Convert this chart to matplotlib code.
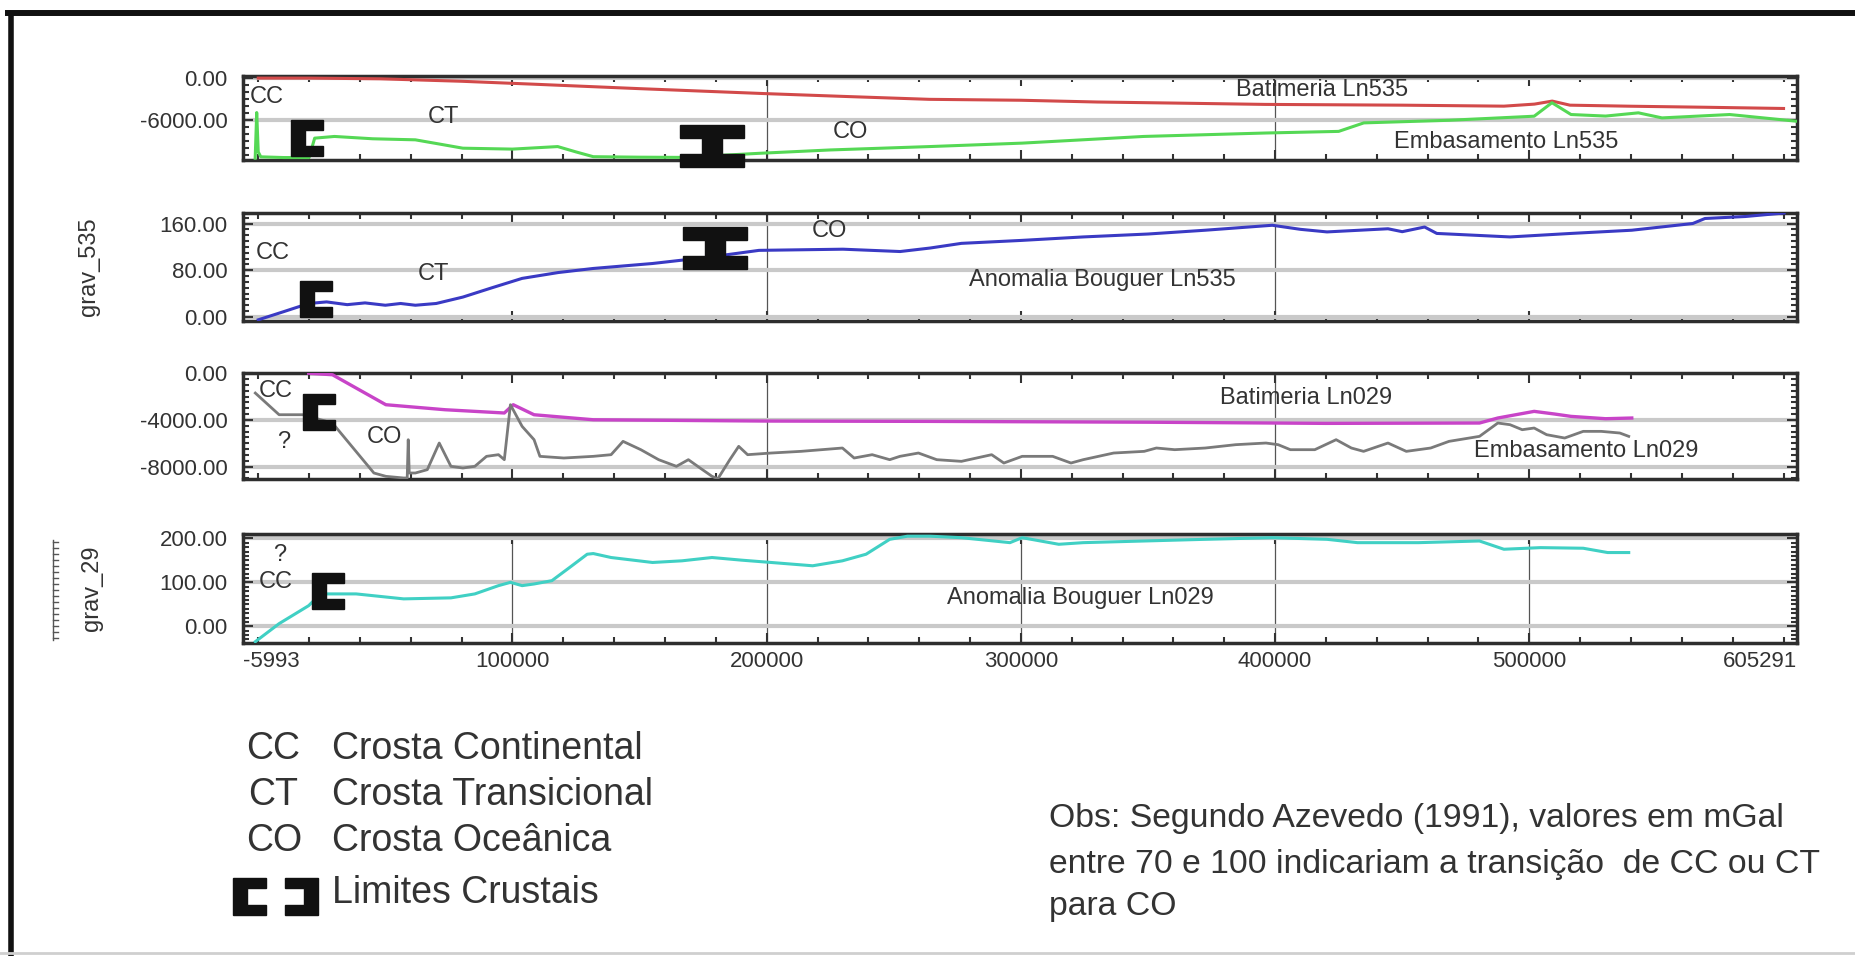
import numpy as np
import matplotlib
matplotlib.use('Agg')
import matplotlib.pyplot as plt
import matplotlib.transforms as mtransforms
from matplotlib.patches import Polygon
from matplotlib.ticker import MultipleLocator, FixedLocator, FormatStrFormatter

plt.rcParams['font.family'] = ['Liberation Sans', 'DejaVu Sans']
TXT = '#333333'

# profile distance range (m)
X0, X1 = -5993, 605291
xtick_pos = [-5993, 100000, 200000, 300000, 400000, 500000, 605291]
xtick_lab = ['-5993', '100000', '200000', '300000', '400000', '500000', '605291']

# Ln535 - bathymetry and basement (m)
bat535_x = [0, 20000, 48000, 80000, 108000, 150000, 199000, 230000, 264000, 300000,
            330000, 360000, 396000, 450000, 490000, 502000, 509000, 516000, 540000,
            570000, 600000]
bat535_y = [0, 0, -100, -450, -860, -1500, -2200, -2600, -3020, -3150,
            -3400, -3550, -3740, -3850, -3990, -3700, -3270, -3850, -4000,
            -4150, -4320]

emb535_x = [-1200, -600, 0, 1000, 10000, 20000, 22200, 30000, 45000, 61800, 70000,
            80500, 100000, 117800, 125000, 131800, 150000, 166700, 197000, 225000,
            264000, 300500, 348300, 396300, 425000, 434900, 468400, 501900, 508900,
            516400, 530000, 542900, 552200, 578800, 605291]
emb535_y = [-11400, -4900, -10500, -11200, -11300, -11300, -8540, -8300, -8630, -8780,
            -9300, -9970, -10100, -9740, -10500, -11180, -11250, -11280, -10700,
            -10220, -9740, -9250, -8300, -7810, -7580, -6370, -6000, -5420, -3500,
            -5180, -5400, -4940, -5660, -5180, -6140]

# Ln535 - Bouguer anomaly (mGal)
grav535_x = [0, 10000, 19850, 26900, 35000, 42000, 50000, 56000, 61800, 70000, 80500,
             92000, 103800, 118000, 131800, 155100, 178400, 197000, 230000, 252500,
             264300, 276600, 300000, 324500, 350000, 372500, 398900, 410000, 420400,
             444400, 450000, 458800, 463600, 492400, 516400, 540300, 564300, 569100,
             585000, 600200]
grav535_y = [-5, 9, 23, 25.7, 21, 24, 20, 23, 20, 23, 34,
             50, 66, 76, 83, 91.5, 103, 114, 116, 112,
             118, 126, 131, 137, 142, 148.5, 157, 150, 145.6,
             151, 146, 154, 143, 137, 143, 148.5, 160, 168.6,
             172, 178]

# Ln029 - bathymetry and basement (m)
bat029_x = [19850, 29200, 38500, 50200, 73500, 96800, 100300, 108500, 131800, 200000,
            264300, 350000, 420000, 480400, 487600, 501900, 510000, 516400, 530000, 540300]
bat029_y = [0, -130, -1270, -2700, -3130, -3410, -2700, -3560, -3990, -4100,
            -4130, -4200, -4300, -4270, -3840, -3270, -3500, -3700, -3900, -3840]

emb029_x = [-1150, 8200, 17500, 29200, 45500, 50200, 57200, 58600, 59000, 59400,
            61800, 66500, 71200, 75800, 80500, 85200, 89800, 94500, 96800, 99200,
            103800, 108500, 110800, 120200, 131800, 138800, 143500, 150500, 157500,
            164500, 169200, 173800, 178500, 180800, 185500, 189000, 192500, 201800,
            213500, 229800, 234400, 241500, 248400, 252400, 259700, 266900, 276600,
            288500, 293300, 300500, 312500, 319700, 324500, 336500, 348500, 353300,
            360500, 372500, 384500, 396400, 401200, 406000, 415600, 424000, 430000,
            434800, 444400, 451600, 461200, 468400, 480400, 487600, 492400, 497200,
            501900, 506800, 513900, 521200, 528300, 535600, 539100]
emb029_y = [-1700, -3557, -3557, -4271, -8556, -8841, -8984, -8984, -5700, -8556,
            -8556, -8270, -5985, -7984, -8127, -7984, -7127, -6985, -7413, -2700,
            -4556, -5700, -7127, -7270, -7127, -6985, -5842, -6556, -7413,
            -7984, -7413, -8127, -8841, -9050, -7413, -6270, -6985, -6842,
            -6699, -6413, -7270, -6985, -7413, -7127, -6842, -7413, -7556,
            -6985, -7699, -7127, -7127, -7699, -7413, -6842, -6699, -6413,
            -6556, -6413, -6127, -5985, -6127, -6556, -6556, -5699, -6413,
            -6699, -5985, -6699, -6413, -5842, -5413, -4271, -4413, -4842,
            -4699, -5270, -5556, -4985, -4985, -5127, -5413]

# Ln029 - Bouguer anomaly (mGal)
grav29_x = [-1150, 8200, 19850, 24500, 38500, 57200, 75800, 85200, 94500, 99200,
            103800, 108500, 115500, 122500, 129400, 131800, 138800, 155100, 166700,
            178500, 190100, 201800, 218100, 229800, 239100, 248400, 255400, 264300,
            276600, 295700, 300500, 314900, 324500, 348500, 372500, 398900, 420400,
            432400, 456400, 480400, 490000, 504400, 521200, 530800, 539100]
grav29_y = [-35, 6, 47, 73.7, 73.7, 62.4, 64.7, 73.7, 92.5, 100,
            92.5, 96.3, 103.8, 133.9, 164, 165.5, 156.5, 145.2, 149,
            156.5, 150.5, 145.2, 137.7, 149, 164, 197.9, 205, 205,
            201.6, 190.3, 201.6, 186.6, 190.3, 194.1, 197.9, 201.6, 197.9,
            190.3, 190.3, 194.1, 175.3, 179, 177.6, 167.8, 167.8]

# crustal limit markers: (distance, value)
lim535_bat = [(19100, -8560)]
lim535_bat_io = [(178400, -9640)]
lim535_grav = [(22870, 30)]
lim535_grav_io = [(179600, 118)]
lim029_bat = [(23850, -3340)]
lim029_grav = [(27390, 80)]

W, H = 1856, 956
fig = plt.figure(figsize=(W / 100, H / 100), dpi=100)


def box(left, top, right, bottom):
    return [left / W, 1 - bottom / H, (right - left) / W, (bottom - top) / H]


over = fig.add_axes([0, 0, 1, 1], zorder=0)
over.set_xlim(0, W)
over.set_ylim(H, 0)
over.axis('off')

ax1 = fig.add_axes(box(243, 76, 1797, 160), zorder=2)
ax2 = fig.add_axes(box(243, 213, 1797, 321), zorder=2)
ax3 = fig.add_axes(box(243, 373, 1797, 479), zorder=2)
ax4 = fig.add_axes(box(243, 534, 1797, 643), zorder=2)


def style(ax, ylim, yticks, yminor, vlines):
    ax.set_xlim(X0, X1)
    ax.set_ylim(*ylim)
    ax.set_yticks(yticks)
    ax.yaxis.set_major_formatter(FormatStrFormatter('%.2f'))
    ax.yaxis.set_minor_locator(MultipleLocator(yminor))
    ax.xaxis.set_major_locator(FixedLocator(xtick_pos))
    ax.xaxis.set_minor_locator(MultipleLocator(20000))
    ax.tick_params(which='both', direction='in', top=True, right=True,
                   color=TXT, labelcolor=TXT, labelsize=16, width=1.5)
    ax.tick_params(which='major', length=7, pad=11)
    ax.tick_params(which='minor', length=4)
    ax.tick_params(axis='x', labelbottom=False, pad=6)
    ax.grid(axis='y', which='major', color='#c9c9c9', lw=3)
    for v in vlines:
        ax.axvline(v, color='#555555', lw=0.9, zorder=1)
    for s in ax.spines.values():
        s.set_linewidth(2.5)
        s.set_color('#2e2e2e')


style(ax1, (-11650, 300), [0, -6000], 1000, [200000, 400000])
style(ax2, (-7, 178), [0, 80, 160], 10, [200000, 400000])
style(ax3, (-9070, 20), [0, -4000, -8000], 500, [200000, 400000])
style(ax4, (-38, 210), [0, 100, 200], 10, [100000, 200000, 300000, 400000, 500000])

ax4.tick_params(axis='x', labelbottom=True)
ax4.set_xticklabels(xtick_lab)
labs = ax4.get_xticklabels()
labs[0].set_ha('left')
labs[-1].set_ha('right')

ax1.plot(bat535_x, bat535_y, color='#d24a4a', lw=2.2, zorder=3)
ax1.plot(emb535_x, emb535_y, color='#55d855', lw=2.2, zorder=3)
ax2.plot(grav535_x, grav535_y, color='#3a3ac4', lw=2.2, zorder=3)
ax3.plot(bat029_x, bat029_y, color='#c844c8', lw=2.4, zorder=3)
ax3.plot(emb029_x, emb029_y, color='#7a7a7a', lw=2.0, zorder=3)
ax4.plot(grav29_x, grav29_y, color='#40d0c4', lw=2.2, zorder=3)


# bracket outlines in pixels, centred on the anchor
def bracket(w=32, h=36, s=14, t=10):
    return np.array([(-w / 2, -h / 2), (w / 2, -h / 2), (w / 2, -h / 2 + t),
                     (-w / 2 + s, -h / 2 + t), (-w / 2 + s, h / 2 - t), (w / 2, h / 2 - t),
                     (w / 2, h / 2), (-w / 2, h / 2)])


def ibeam(w=64, h=42, s=20, t=13):
    return np.array([(-w / 2, -h / 2), (w / 2, -h / 2), (w / 2, -h / 2 + t),
                     (s / 2, -h / 2 + t), (s / 2, h / 2 - t), (w / 2, h / 2 - t),
                     (w / 2, h / 2), (-w / 2, h / 2), (-w / 2, h / 2 - t),
                     (-s / 2, h / 2 - t), (-s / 2, -h / 2 + t), (-w / 2, -h / 2 + t)])


def mark(ax, pts, shape):
    for x, y in pts:
        tr = fig.dpi_scale_trans + mtransforms.ScaledTranslation(x, y, ax.transData)
        ax.add_patch(Polygon(shape / 100, closed=True, transform=tr,
                             color='#111111', clip_on=False, zorder=5))


mark(ax1, lim535_bat, bracket())
mark(ax1, lim535_bat_io, ibeam())
mark(ax2, lim535_grav, bracket())
mark(ax2, lim535_grav_io, ibeam())
mark(ax3, lim029_bat, bracket())
mark(ax4, lim029_grav, bracket())

kw = dict(fontsize=17, color=TXT, va='center', zorder=4)
ax1.text(-3500, -2660, 'CC', ha='left', **kw)
ax1.text(72900, -5540, 'CT', ha='center', **kw)
ax1.text(232900, -7700, 'CO', ha='center', **kw)
ax1.text(418500, -1730, 'Batimeria Ln535', ha='center', **kw)
ax1.text(490700, -9070, 'Embasamento Ln535', ha='center', **kw)

ax2.text(-1150, 110, 'CC', ha='left', **kw)
ax2.text(68900, 74, 'CT', ha='center', **kw)
ax2.text(224700, 147, 'CO', ha='center', **kw)
ax2.text(332200, 63, 'Anomalia Bouguer Ln535', ha='center', **kw)

ax3.text(60, -1560, 'CC', ha='left', **kw)
ax3.text(10100, -5910, '?', ha='center', **kw)
ax3.text(49600, -5480, 'CO', ha='center', **kw)
ax3.text(412000, -2140, 'Batimeria Ln029', ha='center', **kw)
ax3.text(522400, -6700, 'Embasamento Ln029', ha='center', **kw)

ax4.text(8300, 162, '?', ha='center', **kw)
ax4.text(60, 100, 'CC', ha='left', **kw)
ax4.text(323400, 65, 'Anomalia Bouguer Ln029', ha='center', **kw)

# y axis titles and the small scale bar beside grav_29
over.text(89, 267, 'grav_535', rotation=90, ha='center', va='center', fontsize=17, color=TXT)
over.text(92, 588, 'grav_29', rotation=90, ha='center', va='center', fontsize=17, color=TXT)
over.plot([53, 53], [540, 640], color='#555555', lw=1)
for yy in np.arange(542, 640, 6):
    over.plot([53, 58], [yy, yy], color='#555555', lw=1)

# legend
lkw = dict(fontsize=27, color=TXT, va='center')
over.text(246, 749, 'CC', **lkw)
over.text(332, 749, 'Crosta Continental', **lkw)
over.text(248, 795, 'CT', **lkw)
over.text(332, 795, 'Crosta Transicional', **lkw)
over.text(246, 841, 'CO', **lkw)
over.text(332, 841, 'Crosta Oceânica', **lkw)
over.add_patch(Polygon(bracket(33, 37, 14, 10) + (250, 896), closed=True, color='#111111'))
over.add_patch(Polygon(bracket(33, 37, 14, 10) * (-1, 1) + (302, 896), closed=True, color='#111111'))
over.text(332, 893, 'Limites Crustais', **lkw)

okw = dict(fontsize=24.3, color=TXT, va='center')
over.text(1049, 819, 'Obs: Segundo Azevedo (1991), valores em mGal', **okw)
over.text(1049, 864, 'entre 70 e 100 indicariam a transição  de CC ou CT', **okw)
over.text(1049, 907, 'para CO', **okw)

# outer frame
over.plot([5, W], [13, 13], color='#111111', lw=4.3, solid_capstyle='butt')
over.plot([11, 11], [11, H], color='#111111', lw=4, solid_capstyle='butt')
over.plot([0, W], [953, 953], color='#cfcfcf', lw=2)

fig.savefig('out.png', dpi=100, facecolor='white')
